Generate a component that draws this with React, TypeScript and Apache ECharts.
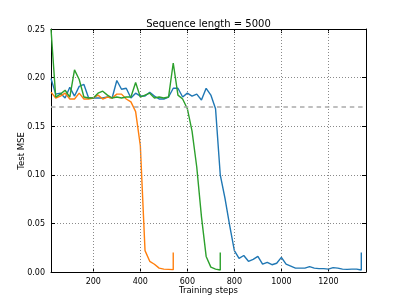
import React, { useEffect, useRef } from "react";
import * as echarts from "echarts";

const titleText = "Sequence length = 5000";
const xAxisTitle = "Training steps";
const yAxisTitle = "Test MSE";

const xTicks = [200, 400, 600, 800, 1000, 1200];
const xGridLines = [200, 400, 600, 800, 1000, 1200];
const baselineMSE = 0.1667;

const blueSteps = [20, 40, 60, 80, 100, 120, 140, 160, 180, 200, 220, 240, 260, 280, 300, 320, 340, 360, 380, 400, 420, 440, 460, 480, 500, 520, 540, 560, 580, 600, 620, 640, 660, 680, 700, 720, 740, 760, 780, 800, 820, 840, 860, 880, 900, 920, 940, 960, 980, 1000, 1020, 1040, 1060, 1080, 1100, 1120, 1140, 1160, 1180, 1200, 1220, 1240, 1260, 1280, 1300, 1320, 1340, 1340];
const blueMSE = [0.199, 0.183, 0.184, 0.179, 0.190, 0.181, 0.191, 0.193, 0.179, 0.179, 0.179, 0.179, 0.180, 0.179, 0.197, 0.188, 0.189, 0.179, 0.184, 0.181, 0.181, 0.185, 0.181, 0.178, 0.178, 0.180, 0.189, 0.189, 0.180, 0.184, 0.181, 0.183, 0.177, 0.189, 0.182, 0.168, 0.100, 0.076, 0.048, 0.022, 0.014, 0.017, 0.011, 0.013, 0.016, 0.008, 0.010, 0.0075, 0.009, 0.015, 0.008, 0.006, 0.004, 0.004, 0.004, 0.0055, 0.004, 0.0035, 0.0035, 0.003, 0.0045, 0.004, 0.003, 0.0027, 0.003, 0.003, 0.002, 0.020];

const orangeSteps = [20, 40, 60, 80, 100, 120, 140, 160, 180, 200, 220, 240, 260, 280, 300, 320, 340, 360, 380, 400, 420, 440, 460, 480, 500, 520, 540, 540];
const orangeMSE = [0.185, 0.179, 0.181, 0.184, 0.178, 0.178, 0.184, 0.178, 0.178, 0.179, 0.182, 0.178, 0.180, 0.179, 0.183, 0.183, 0.178, 0.175, 0.165, 0.130, 0.022, 0.011, 0.008, 0.004, 0.003, 0.0027, 0.0024, 0.020];

const greenSteps = [20, 40, 60, 80, 100, 120, 140, 160, 180, 200, 220, 240, 260, 280, 300, 320, 340, 360, 380, 400, 420, 440, 460, 480, 500, 520, 540, 560, 580, 600, 620, 640, 660, 680, 700, 720, 740, 740];
const greenMSE = [0.250, 0.180, 0.183, 0.187, 0.180, 0.208, 0.198, 0.180, 0.179, 0.179, 0.184, 0.186, 0.182, 0.179, 0.180, 0.179, 0.180, 0.180, 0.195, 0.180, 0.182, 0.184, 0.179, 0.180, 0.179, 0.180, 0.215, 0.182, 0.178, 0.168, 0.145, 0.108, 0.057, 0.016, 0.005, 0.003, 0.002, 0.020];

const font = "DejaVu Sans";

function pairs(xs: number[], ys: number[]) {
  return xs.map((x, i) => [x, ys[i]]);
}

export default function App() {
  const ref = useRef<HTMLDivElement>(null);
  useEffect(() => {
    const chart = echarts.init(ref.current!, null, { renderer: "svg" });
    const gridLine = { color: "#8a8a8a", width: 1, type: [1, 2] as any };
    const frame = { show: true, onZero: false, lineStyle: { color: "#000", width: 1 } };
    const tick = { show: true, inside: true, length: 4, lineStyle: { color: "#000", width: 1 } };
    const lineSeries = (name: string, color: string, data: number[][]) => ({
      name,
      type: "line",
      data,
      symbol: "none",
      showSymbol: false,
      clip: true,
      lineStyle: { color, width: 1.4 },
      itemStyle: { color },
    });
    chart.setOption({
      animation: false,
      grid: { left: 51, top: 29, width: 315, height: 243 },
      xAxis: [
        {
          type: "value",
          min: 20,
          max: 1360,
          position: "bottom",
          axisLine: frame,
          axisTick: { ...tick, customValues: xTicks },
          axisLabel: {
            customValues: xTicks,
            color: "#000",
            fontSize: 8,
            fontFamily: font,
            margin: 5,
            formatter: (v: number) => String(v),
          },
          splitLine: { show: false },
        },
        {
          type: "value",
          min: 20,
          max: 1360,
          position: "top",
          axisLine: frame,
          axisTick: { ...tick, customValues: xTicks },
          axisLabel: { show: false },
          splitLine: { show: false },
        },
      ],
      yAxis: [
        {
          type: "value",
          min: 0,
          max: 0.25,
          interval: 0.05,
          position: "left",
          axisLine: frame,
          axisTick: tick,
          axisLabel: {
            color: "#000",
            fontSize: 8,
            fontFamily: font,
            margin: 6,
            formatter: (v: number) => v.toFixed(2),
          },
          splitLine: { show: true, lineStyle: gridLine },
        },
        {
          type: "value",
          min: 0,
          max: 0.25,
          interval: 0.05,
          position: "right",
          axisLine: frame,
          axisTick: tick,
          axisLabel: { show: false },
          splitLine: { show: false },
        },
      ],
      graphic: [
        {
          type: "text",
          x: 208.5,
          y: 23,
          style: { text: titleText, fill: "#000", font: `10px "${font}"`, textAlign: "center", textVerticalAlign: "middle" },
        },
        {
          type: "text",
          x: 208.5,
          y: 290,
          style: { text: xAxisTitle, fill: "#000", font: `8.5px "${font}"`, textAlign: "center", textVerticalAlign: "middle" },
        },
        {
          type: "text",
          x: 21,
          y: 151,
          rotation: Math.PI / 2,
          style: { text: yAxisTitle, fill: "#000", font: `8.5px "${font}"`, textAlign: "center", textVerticalAlign: "middle" },
        },
      ],
      series: [
        {
          name: "guides",
          type: "line",
          data: [],
          silent: true,
          markLine: {
            silent: true,
            symbol: "none",
            label: { show: false },
            animation: false,
            data: [
              ...xGridLines.map((x) => ({ xAxis: x, lineStyle: gridLine })),
              { yAxis: baselineMSE, lineStyle: { color: "#aaaaaa", width: 1.6, type: [4.5, 3.8] } },
            ],
          },
        },
        lineSeries("blue", "#1f77b4", pairs(blueSteps, blueMSE)),
        lineSeries("orange", "#ff7f0e", pairs(orangeSteps, orangeMSE)),
        lineSeries("green", "#2ca02c", pairs(greenSteps, greenMSE)),
      ],
    });
    return () => chart.dispose();
  }, []);
  return <div ref={ref} style={{ position: "fixed", left: 0, top: 0, width: 407, height: 303 }} />;
}
